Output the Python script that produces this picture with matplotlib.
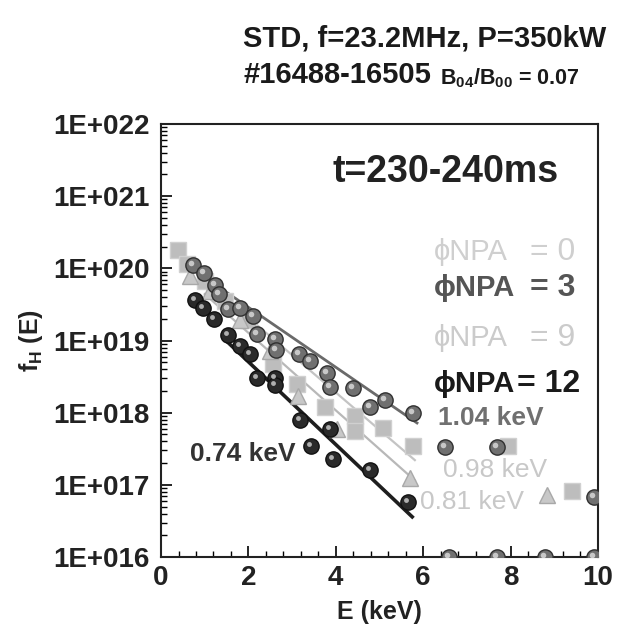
import matplotlib
matplotlib.use("Agg")
import matplotlib.pyplot as plt
import matplotlib.transforms as mtransforms
from matplotlib.ticker import MultipleLocator, LogLocator, NullFormatter

plt.rcParams['font.family'] = ['Liberation Sans', 'DejaVu Sans']
plt.rcParams['font.weight'] = 'bold'
plt.rcParams['mathtext.fontset'] = 'custom'
plt.rcParams['mathtext.rm'] = 'Liberation Sans:bold'
plt.rcParams['mathtext.bf'] = 'Liberation Sans:bold'
plt.rcParams['mathtext.it'] = 'Liberation Sans:bold'

# ---- data (E in keV, f_H(E)) ----
# phi_NPA = 0 : light gray squares
e_phi0 = [0.39, 0.60, 1.00, 1.46, 1.99, 2.56, 3.11, 3.75, 4.44, 4.44, 5.08, 5.77, 7.94, 9.40]
f_phi0 = [1.8e20, 1.15e20, 6.6e19, 3.5e19, 1.9e19, 4.8e18, 2.5e18, 1.2e18, 9.1e17, 5.6e17, 6.2e17, 3.4e17, 3.5e17, 8.3e16]
# phi_NPA = 3 : gray spheres
e_phi3 = [0.73, 0.98, 1.24, 1.33, 1.53, 1.81, 2.11, 2.20, 2.61, 2.63, 3.16, 3.41, 3.80, 3.87,
          4.39, 4.78, 5.13, 5.77, 6.50, 7.70, 9.90, 6.60, 7.70, 8.80, 9.90]
f_phi3 = [1.1e20, 8.5e19, 5.9e19, 4.4e19, 2.7e19, 2.8e19, 2.2e19, 1.23e19, 1.05e19, 7.4e18,
          6.5e18, 5.2e18, 3.5e18, 2.3e18, 2.2e18, 1.2e18, 1.5e18, 9.8e17, 3.3e17, 3.3e17, 6.8e16,
          1e16, 1e16, 1e16, 1e16]
# phi_NPA = 9 : light gray triangles
e_phi9 = [0.66, 1.12, 1.81, 2.49, 3.13, 4.03, 5.70, 8.83]
f_phi9 = [7.8e19, 4.8e19, 1.9e19, 7.2e18, 1.7e18, 6.0e17, 1.23e17, 7.2e16]
# phi_NPA = 12 : dark spheres
e_phi12 = [0.78, 0.96, 1.21, 1.53, 1.81, 2.04, 2.20, 2.61, 2.61, 3.18, 3.87, 3.43, 3.94, 4.78, 5.65]
f_phi12 = [3.7e19, 2.8e19, 2.0e19, 1.2e19, 8.3e18, 6.5e18, 3.0e18, 3.0e18, 2.45e18, 7.9e17,
           6.0e17, 3.5e17, 2.3e17, 1.6e17, 5.8e16]

# fitted exponential lines (end points)
fit_e_phi0 = [0.60, 5.81]
fit_f_phi0 = [1.1e20, 2.2e17]
fit_e_phi3 = [0.70, 5.86]
fit_f_phi3 = [1.0e20, 7.2e17]
fit_e_phi9 = [1.00, 5.81]
fit_f_phi9 = [4.4e19, 1.15e17]
fit_e_phi12 = [1.50, 5.75]
fit_f_phi12 = [9.8e18, 3.6e16]

phi_values = ["= 0", "= 3", "= 9", "= 12"]
temp_labels = ["0.98 keV", "1.04 keV", "0.81 keV", "0.74 keV"]
ytick_vals = [1e16, 1e17, 1e18, 1e19, 1e20, 1e21, 1e22]
ytick_labels = ["1E+016", "1E+017", "1E+018", "1E+019", "1E+020", "1E+021", "1E+022"]

c_dark = "#1e1e1e"

fig = plt.figure(figsize=(6.17, 6.37), dpi=100)
ax = fig.add_axes([0.261, 0.1256, 0.708, 0.6797])

# fit lines
ax.plot(fit_e_phi0, fit_f_phi0, color="#c4c4c4", lw=1.6, zorder=2)
ax.plot(fit_e_phi9, fit_f_phi9, color="#b8b8b8", lw=1.6, zorder=2)
ax.plot(fit_e_phi3, fit_f_phi3, color="#6a6a6a", lw=2.0, zorder=2)
ax.plot(fit_e_phi12, fit_f_phi12, color=c_dark, lw=2.6, zorder=2)

hl = mtransforms.offset_copy(ax.transData, fig=fig, x=-2, y=2, units='dots')

# markers
ax.plot(e_phi0, f_phi0, ls='none', marker='s', ms=11.5, mfc="#bdbdbd", mec="#d0d0d0", mew=1, zorder=3)
ax.plot(e_phi9, f_phi9, ls='none', marker='^', ms=11.5, mfc="#c8c8c8", mec="#a8a8a8", mew=1, zorder=3)
ax.plot(e_phi3, f_phi3, ls='none', marker='o', ms=11, mfc="#707070", mec="#303030", mew=1, zorder=4)
ax.plot(e_phi3, f_phi3, ls='none', marker='o', ms=4, mfc="#c8c8c8", mec='none', zorder=4, transform=hl)
ax.plot(e_phi12, f_phi12, ls='none', marker='o', ms=11, mfc="#2a2a2a", mec="#111111", mew=1, zorder=5)
ax.plot(e_phi12, f_phi12, ls='none', marker='o', ms=3.5, mfc="#b0b0b0", mec='none', zorder=5, transform=hl)

ax.set_yscale('log')
ax.set_xlim(0, 10)
ax.set_ylim(1e16, 1e22)

ax.xaxis.set_major_locator(MultipleLocator(2))
ax.xaxis.set_minor_locator(MultipleLocator(0.4))
ax.yaxis.set_minor_locator(LogLocator(base=10, subs=range(2, 10), numticks=100))
ax.yaxis.set_minor_formatter(NullFormatter())
ax.set_yticks(ytick_vals)
ax.set_yticklabels(ytick_labels)

ax.tick_params(axis='both', which='major', direction='in', length=8, width=1.2,
               labelsize=20, top=False, right=False)
ax.tick_params(axis='both', which='minor', direction='in', length=4, width=1.0,
               top=False, right=False)
ax.tick_params(axis='x', pad=6)
ax.tick_params(axis='y', pad=8)
for lab in ax.get_xticklabels() + ax.get_yticklabels():
    lab.set_fontweight('bold')
    lab.set_color("#222222")
for s in ax.spines.values():
    s.set_linewidth(1.5)
    s.set_color("#222222")

ax.set_xlabel("E (keV)", fontsize=18, fontweight='bold', color="#222222")
ax.set_ylabel("f$_H$ (E)", fontsize=18, fontweight='bold', color="#222222")
ax.xaxis.set_label_coords(0.5, -0.10)
ax.yaxis.set_label_coords(-0.265, 0.5)

# annotations
bb = dict(facecolor='white', edgecolor='none', pad=1)
ax.text(0.393, 0.89, "t=230-240ms", transform=ax.transAxes, fontsize=27, fontweight='bold',
        color="#222222", va='center', ha='left')

leg_y = [0.704, 0.621, 0.506, 0.400]
leg_col = ["#cfcfcf", "#555555", "#cbcbcb", "#1a1a1a"]
leg_w = ['normal', 'bold', 'normal', 'bold']
leg_numx = [0.845, 0.845, 0.845, 0.815]
for i in range(4):
    ax.text(0.625, leg_y[i], "\u03d5NPA", transform=ax.transAxes, fontsize=21,
            fontweight=leg_w[i], color=leg_col[i], va='center', ha='left', zorder=6)
    ax.text(leg_numx[i], leg_y[i], phi_values[i], transform=ax.transAxes, fontsize=23,
            fontweight=leg_w[i], color=leg_col[i], va='center', ha='left', zorder=6)

ax.text(0.634, 0.320, temp_labels[1], transform=ax.transAxes, fontsize=19, fontweight='bold',
        color="#707070", va='center', ha='left', zorder=6, bbox=bb)
ax.text(0.645, 0.200, temp_labels[0], transform=ax.transAxes, fontsize=19, fontweight='normal',
        color="#c8c8c8", va='center', ha='left', zorder=6, bbox=bb)
ax.text(0.593, 0.126, temp_labels[2], transform=ax.transAxes, fontsize=19, fontweight='normal',
        color="#c8c8c8", va='center', ha='left', zorder=6, bbox=bb)
ax.text(0.066, 0.239, temp_labels[3], transform=ax.transAxes, fontsize=19, fontweight='bold',
        color="#333333", va='center', ha='left', zorder=6)

# titles
fig.text(0.394, 0.94, "STD, f=23.2MHz, P=350kW", fontsize=21, fontweight='bold',
         ha='left', va='center', color="#1a1a1a")
fig.text(0.394, 0.882, "#16488-16505", fontsize=21, fontweight='bold',
         ha='left', va='center', color="#1a1a1a")
fig.text(0.713, 0.878, "B$_{04}$/B$_{00}$ = 0.07", fontsize=15.5, fontweight='bold',
         ha='left', va='center', color="#1a1a1a")

fig.savefig("out.png", dpi=100)
